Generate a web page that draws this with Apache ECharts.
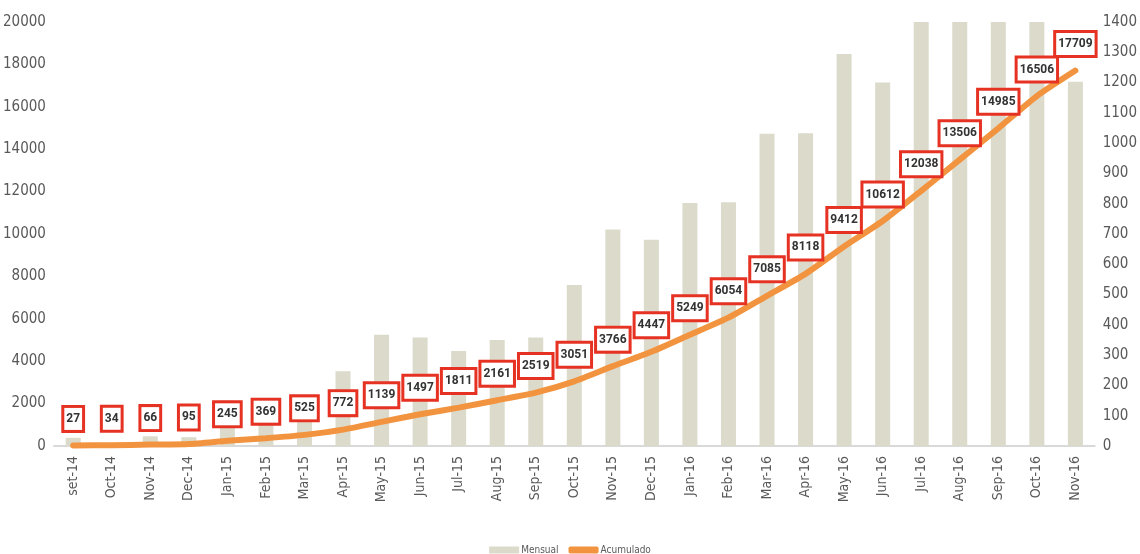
<!DOCTYPE html>
<html lang="es">
<head>
    <meta charset="UTF-8">
    <title>Mensual y Acumulado</title>
    <script src="https://cdn.jsdelivr.net/npm/echarts@6/dist/echarts.min.js"></script>
    <style>
        html, body { margin: 0; padding: 0; background: #ffffff; }
        #chart { width: 1140px; height: 554px; }
    </style>
</head>
<body>
    <div id="chart"></div>
    <script>
        // datos
        const months = ['set-14', 'Oct-14', 'Nov-14', 'Dec-14', 'Jan-15', 'Feb-15', 'Mar-15', 'Apr-15', 'May-15',
            'Jun-15', 'Jul-15', 'Aug-15', 'Sep-15', 'Oct-15', 'Nov-15', 'Dec-15', 'Jan-16', 'Feb-16', 'Mar-16',
            'Apr-16', 'May-16', 'Jun-16', 'Jul-16', 'Aug-16', 'Sep-16', 'Oct-16', 'Nov-16'];
        const mensual = [27, 7, 32, 29, 150, 124, 156, 247, 367, 358, 314, 350, 358, 532, 715, 681, 802, 805,
            1031, 1033, 1294, 1200, 1426, 1468, 1479, 1521, 1203];
        const acumulado = [27, 34, 66, 95, 245, 369, 525, 772, 1139, 1497, 1811, 2161, 2519, 3051, 3766, 4447,
            5249, 6054, 7085, 8118, 9412, 10612, 12038, 13506, 14985, 16506, 17709];

        const font = "'Liberation Sans Narrow', 'DejaVu Sans Condensed', sans-serif";
        const labelFont = "Roboto, 'Liberation Sans', sans-serif";
        const plain = v => String(v);
        const chart = echarts.init(document.getElementById('chart'));

        chart.setOption({
            animation: false,
            textStyle: { fontFamily: font },
            grid: { left: 52, right: 41, top: 22, bottom: 108 },
            legend: {
                bottom: -6,
                left: 'center',
                itemGap: 10,
                textStyle: { color: '#595959', fontSize: 10, fontFamily: font, padding: [0, 0, 0, -3] },
                data: [
                    { name: 'Mensual', icon: 'rect' },
                    { name: 'Acumulado', icon: 'roundRect' }
                ],
                itemWidth: 30,
                itemHeight: 7
            },
            xAxis: {
                type: 'category',
                data: months,
                axisLine: { lineStyle: { color: '#d9d9d9', width: 2 } },
                axisTick: { show: false },
                axisLabel: { rotate: 90, color: '#595959', fontSize: 14, margin: 10, interval: 0, fontFamily: font }
            },
            yAxis: [{
                type: 'value',
                min: 0, max: 20000, interval: 2000,
                splitLine: { show: false },
                axisLine: { show: false },
                axisLabel: { color: '#595959', fontSize: 15, margin: 8, fontFamily: font, formatter: plain }
            }, {
                type: 'value',
                min: 0, max: 1400, interval: 100,
                splitLine: { show: false },
                axisLine: { show: false },
                axisLabel: { color: '#595959', fontSize: 15, margin: 8, fontFamily: font, formatter: plain }
            }],
            series: [{
                name: 'Mensual',
                type: 'bar',
                yAxisIndex: 1,
                data: mensual,
                barWidth: 15,
                clip: true,
                itemStyle: { color: '#dcdacb' }
            }, {
                name: 'Acumulado',
                type: 'line',
                yAxisIndex: 0,
                data: acumulado,
                smooth: 0.2,
                showSymbol: true,
                symbol: 'circle',
                symbolSize: 1,
                lineStyle: { color: '#f2943f', width: 6, cap: 'round' },
                itemStyle: { color: '#f2943f' },
                label: {
                    show: true,
                    position: 'top',
                    distance: 15,
                    color: '#333333',
                    fontSize: 12,
                    fontWeight: 'bold',
                    fontFamily: labelFont,
                    backgroundColor: '#ffffff',
                    borderColor: '#e63223',
                    borderWidth: 3,
                    padding: [5, 2, 5, 2]
                }
            }]
        });
    </script>
</body>
</html>
